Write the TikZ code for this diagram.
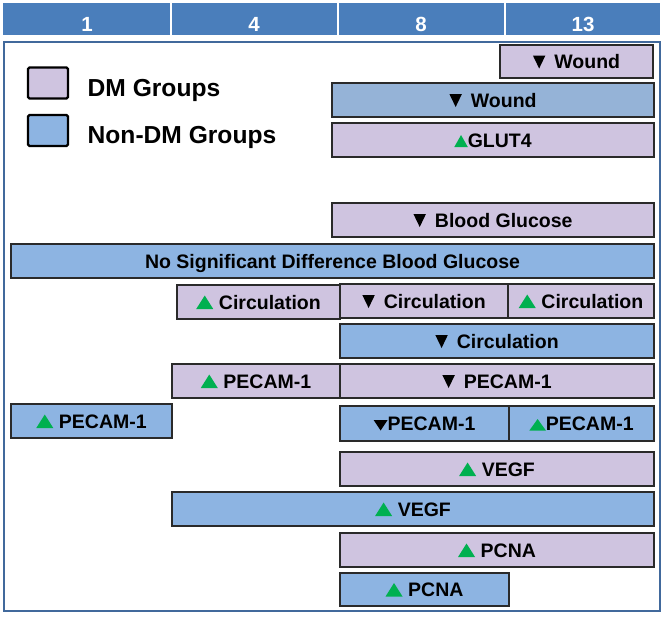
\documentclass[tikz,border=0pt]{standalone}
\usepackage{fontspec}
\setmainfont{Liberation Sans}
\definecolor{hdr}{HTML}{4A7EBB}
\definecolor{frameblue}{HTML}{41699C}
\definecolor{dmfill}{HTML}{CFC4E0}
\definecolor{ndfill}{HTML}{8DB4E2}
\definecolor{ndfilltwo}{HTML}{95B3D7}
\definecolor{upgreen}{HTML}{00B050}
\definecolor{boxline}{HTML}{2A2A2A}
\newcommand{\tridn}[2]{\tikz[baseline=0pt]\fill[black] (0pt,#2) -- (#1,#2) -- ({#1/2},0pt) -- cycle;}
\newcommand{\triup}[2]{\tikz[baseline=0pt]\fill[upgreen] (0pt,0pt) -- (#1,0pt) -- ({#1/2},#2) -- cycle;}
\newcommand{\tdn}{\tridn{12.5pt}{13pt}\hspace{9pt}}
\newcommand{\tup}{\triup{17pt}{13.5pt}\hspace{5.7pt}}
\tikzset{
  box/.style={draw=boxline, line width=1.2pt, inner sep=0pt, text=black,
    text height=14pt, text depth=0pt,
    font=\bfseries\fontsize{19.5}{19.5}\selectfont},
  hdrtext/.style={text=white, inner sep=0pt, text height=14.7pt, text depth=0pt,
    font=\bfseries\fontsize{20.5}{20.5}\selectfont},
  legsq/.style={draw=black, line width=2.4pt, rounded corners=1.5pt, minimum width=40pt, minimum height=31pt, inner sep=0pt},
  legtext/.style={anchor=west, inner sep=0pt, text height=17.6pt, text depth=0pt,
    font=\bfseries\fontsize{24.6}{24.6}\selectfont}
}
\newcommand{\bx}[7]{\node[box, fill=#6, minimum width={(#4-#2)*1pt}, minimum height={(#5-#3)*1pt}] (#1) at ({(#2+#4)/2},{(#3+#5)/2}) {#7};}
\begin{document}
\begin{tikzpicture}[x=1pt,y=-1pt]
\useasboundingbox (0,0) rectangle (666,616);
% header
\fill[hdr] (3,3) rectangle (660,35);
\foreach \xx in {171,338,505} \draw[white, line width=1.5pt] (\xx,3) -- (\xx,35);
\node[hdrtext] (h1) at (87,24) {1};
\node[hdrtext] (h4) at (254,24) {4};
\node[hdrtext] (h8) at (421,24) {8};
\node[hdrtext] (h13) at (583,24) {13};
% frame
\draw[frameblue, line width=2.4pt] (4,42) rectangle (660,611);
% legend
\node[legsq, fill=dmfill] (ldm) at (48,83) {};
\node[legsq, fill=ndfill] (lnd) at (48,130.5) {};
\node[legtext] (tdm) at (87.5,87.5) {DM Groups};
\node[legtext] (tnd) at (87.5,135) {Non-DM Groups};
% boxes
\bx{wdm}{500}{45}{653}{78}{dmfill}{\tdn Wound}
\bx{wnd}{332}{83}{654}{117}{ndfilltwo}{\tdn Wound}
\bx{glut}{332}{123}{654}{157}{dmfill}{\triup{13.5pt}{12pt}GLUT4}
\bx{bg}{332}{203}{654}{237}{dmfill}{\tdn Blood Glucose}
\bx{nsd}{11}{244}{654}{278}{ndfill}{No Significant Difference Blood Glucose}
\bx{cia}{177}{285}{340}{319}{dmfill}{\tup Circulation}
\bx{cib}{340}{284}{508}{318}{dmfill}{\tdn Circulation}
\bx{cic}{508}{284}{654}{318}{dmfill}{\tup Circulation}
\bx{cind}{340}{324}{654}{358}{ndfill}{\tdn Circulation}
\bx{pea}{172}{364}{340}{398}{dmfill}{\tup PECAM-1}
\bx{peb}{340}{364}{654}{398}{dmfill}{\tdn PECAM-1}
\bx{pec}{11}{404}{172}{438}{ndfill}{\tup PECAM-1}
\bx{ped}{340}{406}{509}{441}{ndfill}{\tridn{14pt}{10.5pt}PECAM-1}
\bx{pee}{509}{406}{654}{441}{ndfill}{\triup{16.5pt}{11.5pt}PECAM-1}
\bx{vdm}{340}{452}{654}{486}{dmfill}{\tup VEGF}
\bx{vnd}{172}{492}{654}{526}{ndfill}{\tup VEGF}
\bx{pdm}{340}{533}{654}{567}{dmfill}{\tup PCNA}
\bx{pnd}{340}{573}{509}{606}{ndfill}{\tup PCNA}
\end{tikzpicture}
\end{document}
